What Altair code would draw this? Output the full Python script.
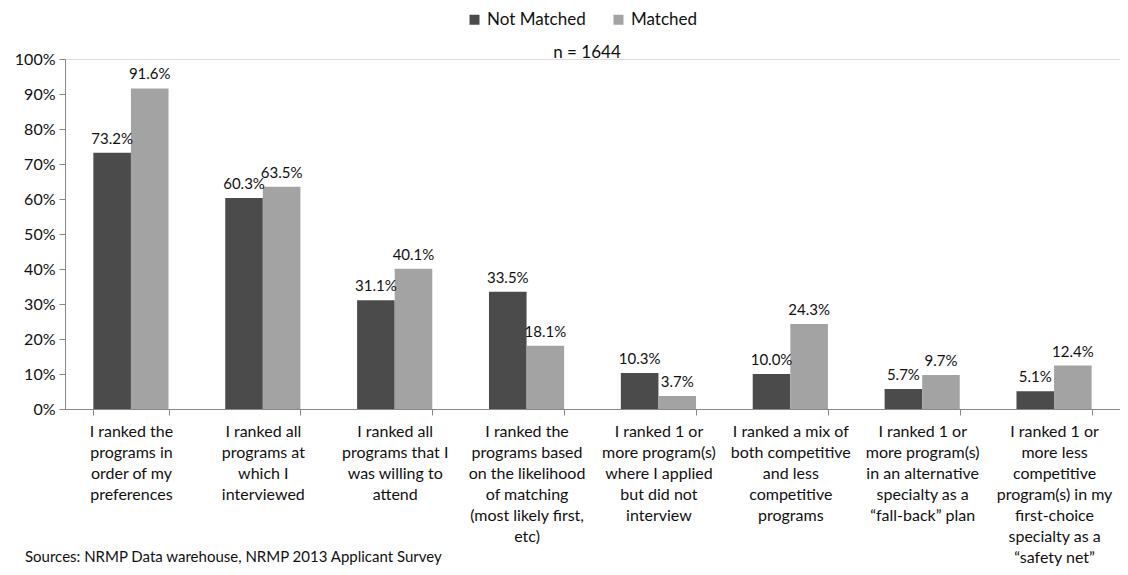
import altair as alt
import pandas as pd

categories = [
    "I ranked the|programs in|order of my|preferences",
    "I ranked all|programs at|which I|interviewed",
    "I ranked all|programs that I|was willing to|attend",
    "I ranked the|programs based|on the likelihood|of matching|(most likely first,|etc)",
    "I ranked 1 or|more program(s)|where I applied|but did not|interview",
    "I ranked a mix of|both competitive|and less|competitive|programs",
    "I ranked 1 or|more program(s)|in an alternative|specialty as a|\u201cfall-back\u201d plan",
    "I ranked 1 or|more less|competitive|program(s) in my|first-choice|specialty as a|\u201csafety net\u201d",
]
series = ["Not Matched", "Matched"]
not_matched = [73.2, 60.3, 31.1, 33.5, 10.3, 10.0, 5.7, 5.1]
matched = [91.6, 63.5, 40.1, 18.1, 3.7, 24.3, 9.7, 12.4]

rows = []
for i, c in enumerate(categories):
    rows.append({"cat": c, "series": "Not Matched", "value": not_matched[i] / 100})
    rows.append({"cat": c, "series": "Matched", "value": matched[i] / 100})
df = pd.DataFrame(rows)

FONT = "Lato"
W, H = 1055, 350

x = alt.X("cat:N", sort=categories, title=None,
          scale=alt.Scale(paddingInner=0.43, paddingOuter=0.215),
          axis=alt.Axis(labelAngle=0, labelExpr="split(datum.label, '|')",
                        labelFont=FONT, labelFontSize=16, labelColor="#111",
                        labelLineHeight=21, labelLimit=200, labelOverlap=False,
                        labelPadding=8, tickBand="extent", tickSize=6,
                        domainColor="#888", tickColor="#888"))
xo = alt.XOffset("series:N", sort=series, scale=alt.Scale(paddingInner=0, paddingOuter=0))
y = alt.Y("value:Q", title=None,
          scale=alt.Scale(domain=[0, 1], nice=False),
          axis=alt.Axis(format=".0%", values=[i / 10 for i in range(11)],
                        grid=False, labelFont=FONT, labelFontSize=16,
                        labelColor="#111", domainColor="#888", tickColor="#888",
                        tickSize=6, labelPadding=4))
color = alt.Color("series:N", sort=series,
                  scale=alt.Scale(domain=series, range=["#4b4b4b", "#a3a3a3"]),
                  legend=alt.Legend(title=None, orient="none", legendX=401, legendY=-48,
                                    direction="horizontal", symbolType="square",
                                    symbolSize=100, symbolStrokeWidth=0,
                                    labelFont=FONT, labelFontSize=17, labelColor="#111",
                                    columnPadding=24, symbolOffset=0, labelOffset=4))

base = alt.Chart(df)
bars = base.mark_bar().encode(x=x, xOffset=xo, y=y, color=color)
labels = base.mark_text(dy=-14, font=FONT, fontSize=15, color="#111").encode(
    x=x, xOffset=xo, y=y, text=alt.Text("value:Q", format=".1%"))

ann = pd.DataFrame({"t": ["n = 1644"]})
ntext = alt.Chart(ann).mark_text(font=FONT, fontSize=17, color="#111").encode(
    x=alt.value(522), y=alt.value(-6), text="t:N")
src = pd.DataFrame({"t": ["Sources: NRMP Data warehouse, NRMP 2013 Applicant Survey"]})
stext = alt.Chart(src).mark_text(font=FONT, fontSize=15, color="#111", align="left").encode(
    x=alt.value(-40), y=alt.value(498), text="t:N")

chart = alt.layer(bars, labels, ntext, stext).properties(
    width=W, height=H,
    autosize=alt.AutoSizeParams(type="none"),
    padding={"left": 57, "top": 51, "right": 0, "bottom": 158},
).configure_view(stroke=None).configure(background="white")

chart.save("out.html", embed_options={"renderer": "svg", "actions": False})
